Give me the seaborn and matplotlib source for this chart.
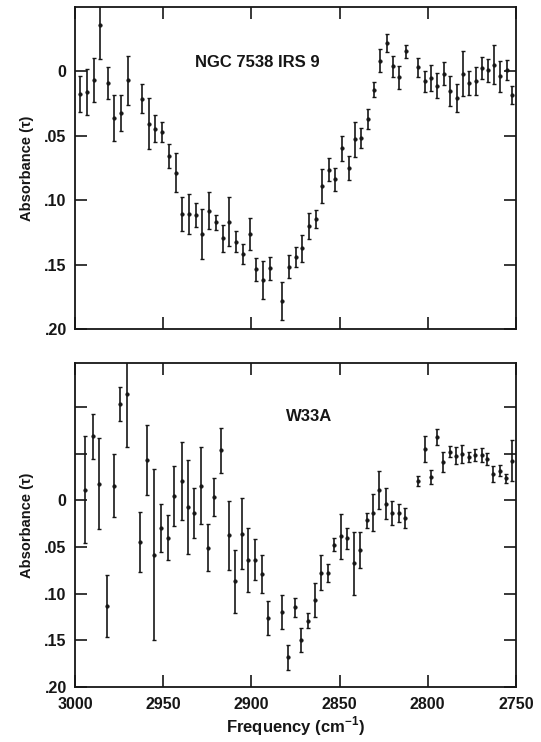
import numpy as np
import pandas as pd
import matplotlib
matplotlib.use("Agg")
import matplotlib.pyplot as plt
import seaborn as sns

# ---------------- data ----------------
ngc_freq = [2997.1, 2993.2, 2989.4, 2985.6, 2981.4, 2977.6, 2973.8, 2970.0, 2962.2, 2958.2,
            2954.4, 2950.4, 2946.6, 2943.0, 2939.2, 2935.4, 2931.6, 2927.8, 2924.0, 2920.2,
            2916.3, 2912.4, 2908.6, 2904.8, 2901.0, 2897.1, 2893.5, 2889.7, 2882.9, 2878.7,
            2874.9, 2871.1, 2867.3, 2863.5, 2859.7, 2855.9, 2852.5, 2848.7, 2844.9, 2841.4,
            2837.8, 2834.0, 2830.2, 2826.8, 2823.2, 2819.4, 2816.0, 2812.2, 2805.3, 2801.7,
            2798.1, 2794.7, 2790.7, 2787.1, 2783.6, 2780.2, 2776.4, 2772.8, 2769.4, 2766.0,
            2762.4, 2759.0, 2755.1, 2752.1]
ngc_tau = [0.0175, 0.0162, 0.0064, -0.0361, 0.0090, 0.0361, 0.0322, 0.0070, 0.0211, 0.0405,
           0.0446, 0.0469, 0.0657, 0.0786, 0.1108, 0.1108, 0.1116, 0.1263, 0.1082, 0.1173,
           0.1296, 0.1167, 0.1322, 0.1415, 0.1263, 0.1538, 0.1620, 0.1528, 0.1780, 0.1516,
           0.1438, 0.1373, 0.1200, 0.1148, 0.0889, 0.0764, 0.0837, 0.0596, 0.0751, 0.0526,
           0.0518, 0.0371, 0.0143, -0.0083, -0.0220, -0.0039, 0.0047, -0.0155, -0.0031, 0.0078,
           0.0052, 0.0111, 0.0018, 0.0155, 0.0207, 0.0018, 0.0091, 0.0078, -0.0026, -0.0008,
           -0.0052, 0.0039, -0.0008, 0.0181]
ngc_err = [0.0137, 0.0178, 0.0171, 0.0264, 0.0121, 0.0178, 0.0137, 0.0188, 0.0111, 0.0196,
           0.0106, 0.0077, 0.0090, 0.0152, 0.0129, 0.0155, 0.0093, 0.0196, 0.0142, 0.0057,
           0.0103, 0.0191, 0.0080, 0.0077, 0.0121, 0.0090, 0.0150, 0.0088, 0.0147, 0.0088,
           0.0078, 0.0104, 0.0101, 0.0070, 0.0130, 0.0088, 0.0088, 0.0098, 0.0091, 0.0135,
           0.0078, 0.0078, 0.0057, 0.0091, 0.0070, 0.0083, 0.0088, 0.0052, 0.0075, 0.0083,
           0.0101, 0.0096, 0.0088, 0.0117, 0.0111, 0.0174, 0.0096, 0.0109, 0.0083, 0.0088,
           0.0153, 0.0119, 0.0078, 0.0070]

w33_freq = [2994.1, 2989.9, 2986.1, 2982.1, 2978.1, 2974.3, 2970.3, 2962.9, 2958.9, 2955.1,
            2951.3, 2947.5, 2943.7, 2939.5, 2935.7, 2932.3, 2928.5, 2924.7, 2920.9, 2917.1,
            2912.9, 2909.5, 2905.3, 2901.9, 2897.7, 2893.9, 2890.5, 2882.9, 2879.5, 2875.5,
            2871.7, 2868.1, 2864.1, 2860.3, 2856.5, 2852.9, 2849.2, 2845.8, 2841.8, 2838.2,
            2834.6, 2831.0, 2827.4, 2823.6, 2820.0, 2816.4, 2812.7, 2805.5, 2801.7, 2798.3,
            2794.7, 2791.1, 2787.5, 2784.1, 2780.5, 2776.6, 2773.2, 2769.4, 2766.2, 2762.7,
            2758.9, 2755.7, 2752.3]
w33_tau = [-0.0114, -0.0686, -0.0179, 0.1132, -0.0154, -0.1036, -0.1143, 0.0446, -0.0429, 0.0582,
           0.0296, 0.0404, -0.0043, -0.0207, 0.0071, 0.0136, -0.0154, 0.0507, -0.0036, -0.0536,
           0.0375, 0.0868, 0.0357, 0.0643, 0.0636, 0.0790, 0.1260, 0.1200, 0.1680, 0.1145,
           0.1494, 0.1289, 0.1069, 0.0774, 0.0781, 0.0475, 0.0385, 0.0407, 0.0677, 0.0529,
           0.0216, 0.0133, -0.0108, 0.0036, 0.0133, 0.0137, 0.0191, -0.0205, -0.0551, -0.0252,
           -0.0673, -0.0414, -0.0522, -0.0479, -0.0497, -0.0461, -0.0486, -0.0486, -0.0439, -0.0281,
           -0.0317, -0.0234, -0.0425]
w33_err = [0.0571, 0.0241, 0.0484, 0.0330, 0.0336, 0.0182, 0.0570, 0.0325, 0.0375, 0.0918,
           0.0257, 0.0241, 0.0321, 0.0420, 0.0500, 0.0271, 0.0411, 0.0250, 0.0200, 0.0243,
           0.0368, 0.0336, 0.0379, 0.0343, 0.0218, 0.0205, 0.0183, 0.0184, 0.0135, 0.0103,
           0.0130, 0.0077, 0.0185, 0.0185, 0.0099, 0.0068, 0.0243, 0.0112, 0.0342, 0.0194,
           0.0083, 0.0198, 0.0203, 0.0167, 0.0130, 0.0099, 0.0104, 0.0054, 0.0140, 0.0076,
           0.0085, 0.0108, 0.0059, 0.0086, 0.0099, 0.0054, 0.0063, 0.0076, 0.0065, 0.0081,
           0.0059, 0.0045, 0.0220]

x_ticks = [3000, 2950, 2900, 2850, 2800, 2750]
x_ticklabels = ["3000", "2950", "2900", "2850", "2800", "2750"]
top_yticks = [0, 0.05, 0.10, 0.15, 0.20]
top_yticklabels = ["0", ".05", ".10", ".15", ".20"]
bot_yticks = [-0.10, -0.05, 0, 0.05, 0.10, 0.15, 0.20]
bot_yticklabels = ["", "", "0", ".05", ".10", ".15", ".20"]

# ---------------- style ----------------
sns.set_theme(style="ticks")
plt.rcParams["font.family"] = ["Liberation Sans", "DejaVu Sans"]
plt.rcParams["font.weight"] = "bold"
plt.rcParams["mathtext.fontset"] = "custom"
plt.rcParams["mathtext.bf"] = "Liberation Sans:bold"
plt.rcParams["mathtext.rm"] = "Liberation Sans:bold"
ink = "#161616"

fig = plt.figure(figsize=(5.41, 7.42), dpi=100)
ax1 = fig.add_axes([0.1386, 0.5566, 0.8150, 0.4340])
ax2 = fig.add_axes([0.1386, 0.0741, 0.8150, 0.4367])


def draw(ax, freq, tau, err, ylim, yticks, ylabels, label, lpos, show_x):
    df = pd.DataFrame({"freq": freq, "tau": tau, "err": err})
    ax.errorbar(df["freq"], df["tau"], yerr=df["err"], fmt="none", ecolor=ink,
                elinewidth=1.2, capsize=1.6, capthick=1.0, zorder=2)
    sns.scatterplot(data=df, x="freq", y="tau", ax=ax, color=ink, s=7,
                    edgecolor=ink, linewidth=0.3, zorder=3, legend=False)
    ax.set_xlim(3000, 2750)
    ax.set_ylim(ylim[1], ylim[0])
    ax.set_xticks(x_ticks)
    ax.set_yticks(yticks)
    ax.set_yticklabels(ylabels, fontsize=11.5, fontweight="bold", color=ink)
    if show_x:
        ax.set_xticklabels(x_ticklabels, fontsize=11.5, fontweight="bold", color=ink)
        ax.set_xlabel("Frequency (cm$^{\\mathbf{-1}}$)", fontsize=12,
                      fontweight="bold", color=ink, labelpad=2)
    else:
        ax.set_xticklabels([])
        ax.set_xlabel("")
    ax.set_ylabel("Absorbance (\u03c4)", fontsize=10.5, fontweight="bold", color=ink,
                  labelpad=7)
    ax.tick_params(axis="both", direction="in", length=8.5, width=1.2, color=ink,
                   top=True, right=True)
    ax.tick_params(axis="x", pad=7)
    ax.tick_params(axis="y", pad=6)
    for s in ax.spines.values():
        s.set_color(ink)
        s.set_linewidth(1.3)
    ax.text(lpos[0], lpos[1], label, transform=ax.transAxes, ha="center", va="center",
            fontsize=12, fontweight="bold", color=ink)


draw(ax1, ngc_freq, ngc_tau, ngc_err, (-0.05, 0.20), top_yticks, top_yticklabels,
     "NGC 7538 IRS 9", (0.413, 0.828), False)
draw(ax2, w33_freq, w33_tau, w33_err, (-0.147, 0.20), bot_yticks, bot_yticklabels,
     "W33A", (0.53, 0.836), True)

fig.savefig("out.png", dpi=100, facecolor="white")
